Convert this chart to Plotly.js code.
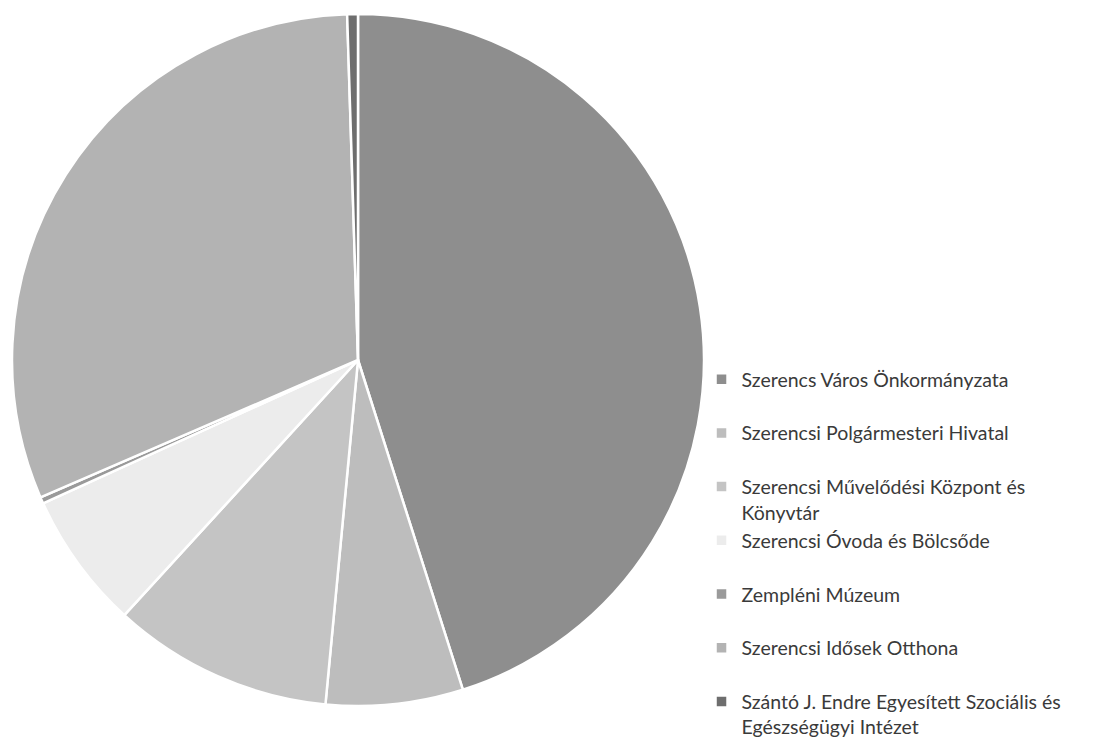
<!DOCTYPE html>
<html>
<head>
<meta charset="utf-8">
<script src="https://cdn.plot.ly/plotly-3.0.1.min.js"></script>
<style>html,body{margin:0;padding:0;background:#fff;}#chart{width:1110px;height:740px;}</style>
</head>
<body>
<div id="chart"></div>
<script>
const categories = [
  "Szerencs Város Önkormányzata",
  "Szerencsi Polgármesteri Hivatal",
  "Szerencsi Művelődési Központ és<br>Könyvtár",
  "Szerencsi Óvoda és Bölcsőde",
  "Zempléni Múzeum",
  "Szerencsi Idősek Otthona",
  "Szántó J. Endre Egyesített Szociális és<br>Egészségügyi Intézet"
];
const shares = [45.1, 6.4, 10.3, 6.4, 0.3, 31.0, 0.5];
const sliceColors = ["#8e8e8e", "#bdbdbd", "#c4c4c4", "#ececec", "#9a9a9a", "#b3b3b3", "#6e6e6e"];

// single-line names get an empty second line so every legend entry has the same height
const legendLabels = categories.map(c => c.indexOf("<br>") >= 0 ? c : c + "<br>\u00a0");

const trace = {
  type: "pie",
  labels: legendLabels,
  values: shares,
  sort: false,
  direction: "clockwise",
  rotation: 0,
  textinfo: "none",
  hoverinfo: "label+percent",
  marker: {
    colors: sliceColors,
    line: {color: "#ffffff", width: 2.5}
  },
  domain: {x: [12/1110, 704/1110], y: [1 - 706/740, 1 - 14/740]}
};

const layout = {
  width: 1110,
  height: 740,
  margin: {l: 0, r: 0, t: 0, b: 0, autoexpand: false},
  paper_bgcolor: "#ffffff",
  showlegend: true,
  legend: {
    x: 0.632,
    xanchor: "left",
    y: 1 - 360/740,
    yanchor: "top",
    valign: "top",
    font: {family: "Lato, 'Liberation Sans', sans-serif", size: 19.5, color: "#3a3a3a"},
    bgcolor: "rgba(0,0,0,0)"
  }
};

Plotly.newPlot("chart", [trace], layout, {displayModeBar: false, staticPlot: true});
</script>
</body>
</html>
